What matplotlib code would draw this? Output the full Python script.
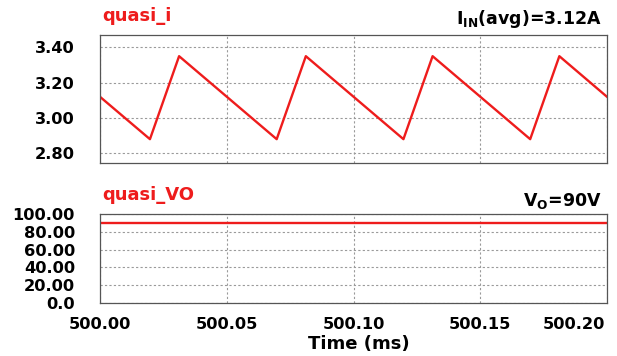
import matplotlib
matplotlib.use("Agg")
import matplotlib.pyplot as plt
from matplotlib.transforms import ScaledTranslation

# Inductor current waveform (vertex points of the triangular ripple)
t_i_ms = [500.00, 500.0197, 500.0312, 500.0697, 500.0812, 500.1197, 500.1312, 500.1697, 500.1812, 500.20]
quasi_i = [3.12, 2.88, 3.35, 2.88, 3.35, 2.88, 3.35, 2.88, 3.35, 3.12]

# Output voltage
t_vo_ms = [500.00, 500.20]
quasi_vo = [90.0, 90.0]

x_ticks = [500.00, 500.05, 500.10, 500.15, 500.20]
x_ticklabels = ["500.00", "500.05", "500.10", "500.15", "500.20"]
i_ticks = [2.80, 3.00, 3.20, 3.40]
i_ticklabels = ["2.80", "3.00", "3.20", "3.40"]
vo_ticks = [0, 20, 40, 60, 80, 100]
vo_ticklabels = ["0.0", "20.00", "40.00", "60.00", "80.00", "100.00"]

RED = "#ee1c1c"
W, H = 617, 356
fig = plt.figure(figsize=(W / 100, H / 100), dpi=100)

def px_axes(left, top, right, bottom):
    return fig.add_axes([left / W, 1 - bottom / H, (right - left) / W, (bottom - top) / H])

def style(ax):
    for s in ax.spines.values():
        s.set_color("#555555")
        s.set_linewidth(0.9)
    ax.grid(True, color="#9a9a9a", linestyle=(0, (2, 2)), linewidth=0.8)
    ax.tick_params(length=0, labelsize=11.7)
    for lab in ax.get_yticklabels() + ax.get_xticklabels():
        lab.set_fontweight("bold")

ax1 = px_axes(100, 35, 607, 163)
ax1.plot(t_i_ms, quasi_i, color=RED, linewidth=1.7)
ax1.set_xlim(500.00, 500.20)
ax1.set_ylim(2.745, 3.47)
ax1.set_xticks(x_ticks)
ax1.set_xticklabels([])
ax1.set_yticks(i_ticks)
ax1.set_yticklabels(i_ticklabels)
ax1.tick_params(axis="y", pad=18)
style(ax1)

ax2 = px_axes(100, 214, 607, 303)
ax2.plot(t_vo_ms, quasi_vo, color=RED, linewidth=1.7)
ax2.set_xlim(500.00, 500.20)
ax2.set_ylim(0, 100)
ax2.set_xticks(x_ticks)
ax2.set_xticklabels(x_ticklabels)
ax2.set_yticks(vo_ticks)
ax2.set_yticklabels(vo_ticklabels)
ax2.tick_params(axis="y", pad=18)
ax2.tick_params(axis="x", pad=10)
style(ax2)
# keep the last time label inside the figure
last = ax2.get_xticklabels()[-1]
last.set_horizontalalignment("right")
last.set_transform(last.get_transform() + ScaledTranslation(-2 / 100, 0, fig.dpi_scale_trans))
ax2.set_xlabel("Time (ms)", fontsize=13, fontweight="bold", labelpad=1)
ax2.xaxis.set_label_coords(0.51, -0.36)

fig.text(102 / W, 1 - 16 / H, "quasi_i", color=RED, fontsize=13, fontweight="bold",
         ha="left", va="center")
fig.text(102 / W, 1 - 195 / H, "quasi_VO", color=RED, fontsize=13, fontweight="bold",
         ha="left", va="center")
fig.text(602 / W, 1 - 19 / H, r"I$_{\mathbf{IN}}$(avg)=3.12A", fontsize=12.5,
         fontweight="bold", ha="right", va="center")
fig.text(602 / W, 1 - 201 / H, r"V$_{\mathbf{O}}$=90V", fontsize=12.5,
         fontweight="bold", ha="right", va="center")

fig.savefig("out.png", dpi=100)
